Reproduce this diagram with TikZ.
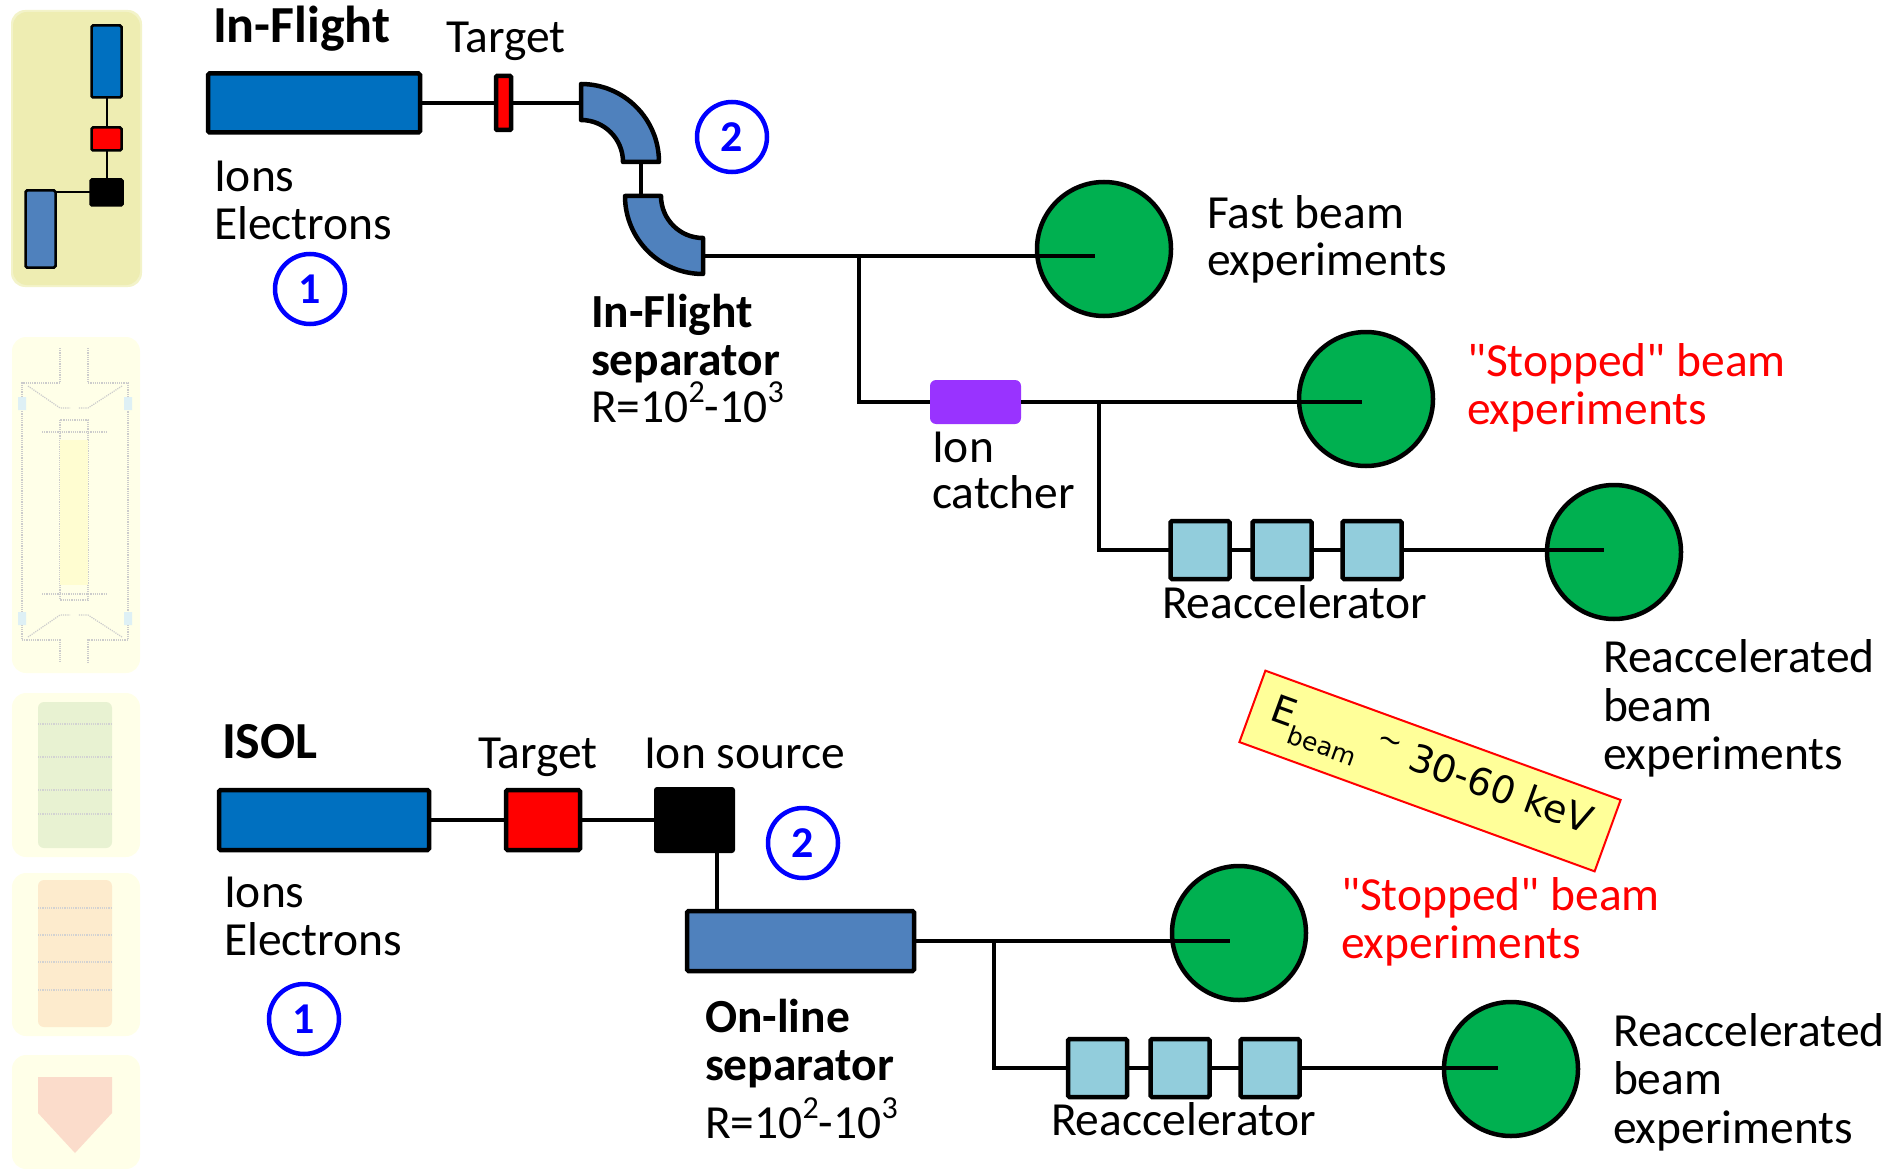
\documentclass[tikz,border=0pt]{standalone}
\usepackage{fontspec}
\setmainfont{Carlito}
\newfontfamily\notefont{DejaVu Sans}
\usetikzlibrary{calc}

\definecolor{beamblue}{HTML}{0070C0}
\definecolor{sepblue}{HTML}{4F81BD}
\definecolor{accblue}{HTML}{92CDDC}
\definecolor{expgreen}{HTML}{00B050}
\definecolor{catcherpurple}{HTML}{9933FF}
\definecolor{numblue}{HTML}{0000FF}
\definecolor{notefill}{HTML}{FFFF99}
\definecolor{khaki}{HTML}{EEEDB2}
\definecolor{paleyellow}{HTML}{FFFFE8}
\definecolor{palegreen}{HTML}{E8F2D2}
\definecolor{paleorange}{HTML}{FDEBCD}
\definecolor{palered}{HTML}{FBDCCB}

\newcommand\lblfont{\fontsize{47.5}{48}\selectfont}
\newcommand\titlefont{\fontsize{52}{56}\selectfont\bfseries}
\newcommand\numfont{\fontsize{44}{44}\selectfont\bfseries}
\newcommand\supnum[1]{\raisebox{0.42em}{\fontsize{32}{32}\selectfont #1}}

\begin{document}
\begin{tikzpicture}[x=1pt,y=-1pt,
  every node/.style={inner sep=0pt,outer sep=0pt},
  comp/.style={draw=black,line width=4.5pt,rounded corners=1.5pt},
  beam/.style={line width=3.5pt},
  thin beam/.style={line width=2pt},
  lbl/.style={anchor=base west,font=\lblfont},
  ttl/.style={anchor=base west,font=\titlefont},
  sep lbl/.style={anchor=base west,font=\lblfont\bfseries},
  stopped/.style={anchor=base west,font=\lblfont,text=red},
  expt/.style={circle,fill=expgreen,draw=black,line width=4.5pt,minimum size=134pt},
  numcirc/.style={circle,draw=numblue,line width=4.5pt,minimum size=70pt,
                  text=numblue,font=\numfont},
  acc/.style={comp,fill=accblue,minimum width=59pt,minimum height=58pt},
  panel/.style={rounded corners=14pt}
]
\useasboundingbox (0,0) rectangle (1890,1169);

% ---------- side strip of small icons ----------
\fill[khaki!70,panel] (11,10) rectangle (142,287);
\fill[khaki,panel] (13,12) rectangle (140,285);
\node[comp,fill=beamblue,minimum width=30pt,minimum height=72pt,line width=2.5pt] (iB) at (106.5,61.5) {};
\node[comp,fill=red,minimum width=30pt,minimum height=23pt,line width=2.5pt] (iT) at (106.5,139) {};
\node[comp,fill=black,minimum width=32pt,minimum height=26pt,line width=2.5pt] (iS) at (106.5,192.5) {};
\node[comp,fill=sepblue,minimum width=30pt,minimum height=77pt,line width=2.5pt] (iP) at (40.5,229) {};
\draw[thin beam] (iB.south) -- (iT.north);
\draw[thin beam] (iT.south) -- (iS.north);
\draw[thin beam] (iS.west) -- (iS.west -| iP.east);

% faint trap sketch
\fill[paleyellow,panel] (12,337) rectangle (140,673);
\begin{scope}[gray!40,line width=1.2pt,densely dotted]
  \draw (60,348) -- (60,383) -- (22,383) -- (22,640) -- (60,640) -- (60,662);
  \draw (88,348) -- (88,383) -- (128,383) -- (128,640) -- (88,640) -- (88,662);
  \draw (28,386) -- (60,408) -- (70,408);
  \draw (122,386) -- (88,408) -- (78,408);
  \draw (28,637) -- (60,615) -- (70,615);
  \draw (122,637) -- (88,615) -- (78,615);
  \draw (42,432) -- (108,432);
  \draw (42,594) -- (108,594);
  \draw (60,420) rectangle (88,600);
\end{scope}
\fill[yellow!18] (60,440) rectangle (88,585);
\fill[accblue!30] (18,397) rectangle (26,410) (124,397) rectangle (132,410)
                  (18,612) rectangle (26,625) (124,612) rectangle (132,625);

% faint cylinders and cone
\fill[paleyellow,panel] (12,693) rectangle (140,857);
\fill[palegreen,rounded corners=6pt] (38,702) rectangle (112,848);
\foreach \yy in {724,757,790,814}
  \draw[gray!35,line width=1.2pt,densely dotted] (38,\yy) -- (112,\yy);
\fill[paleyellow,panel] (12,873) rectangle (140,1036);
\fill[paleorange,rounded corners=6pt] (38,880) rectangle (112,1027);
\foreach \yy in {908,935,962,990}
  \draw[gray!35,line width=1.2pt,densely dotted] (38,\yy) -- (112,\yy);
\fill[paleyellow,panel] (12,1055) rectangle (140,1169);
\fill[palered] (38,1077) -- (112,1077) -- (112,1113) -- (75,1153) -- (38,1113) -- cycle;

% ---------- In-Flight line ----------
\node[ttl] (ifTitle) at (213,43) {In-Flight};
\node[lbl] (ifTgtLbl) at (446,53) {Target};
\node[comp,fill=beamblue,minimum width=212pt,minimum height=59pt] (beamA) at (314,103) {};
\node[comp,fill=red,minimum width=15pt,minimum height=54pt,rounded corners=1pt] (tgtA) at (503.5,103) {};
\node[lbl] (ionsA) at (214,192) {Ions};
\node[lbl] (elecA) at (214,240) {Electrons};
\node[numcirc] (oneA) at (310,289) {1};
\node[numcirc] (twoA) at (732,137) {2};

% dipole magnets of the separator
\filldraw[fill=sepblue,draw=black,line width=4.5pt,line join=round]
  (581,84) arc[start angle=-90,end angle=0,radius=78] -- (623,162)
  arc[start angle=0,end angle=-90,radius=42] -- cycle;
\filldraw[fill=sepblue,draw=black,line width=4.5pt,line join=round]
  (625,196) arc[start angle=180,end angle=90,radius=78] -- (703,238)
  arc[start angle=90,end angle=180,radius=42] -- cycle;
\coordinate (m1in) at (581,103);
\coordinate (m1out) at (641,162);
\coordinate (m2in) at (641,196);
\coordinate (m2out) at (703,256);

\node[sep lbl] (ifSep1) at (591,327) {In-Flight};
\node[sep lbl] (ifSep2) at (591,375) {separator};
\node[lbl] (ifSepR) at (591,422) {R=10\supnum{2}-10\supnum{3}};

\node[expt] (fastA) at (1104,249) {};
\node[lbl] (fast1) at (1207,229) {Fast beam};
\node[lbl] (fast2) at (1207,275) {experiments};

\node[fill=catcherpurple,rounded corners=6pt,minimum width=91pt,minimum height=44pt] (catchA) at (975.5,402) {};
\node[lbl] (catch1) at (932,462) {Ion};
\node[lbl] (catch2) at (932,508) {catcher};

\node[expt] (stopA) at (1366,399) {};
\node[stopped] (stopA1) at (1467,376) {\textquotedbl Stopped\textquotedbl{} beam};
\node[stopped] (stopA2) at (1467,424) {experiments};

\node[acc] (accA1) at (1200,550) {};
\node[acc] (accA2) at (1282,550) {};
\node[acc] (accA3) at (1372,550) {};
\node[lbl] (accAL) at (1162,618) {Reaccelerator};

\node[expt] (reaccA) at (1614,552) {};
\node[lbl] (reA1) at (1603,672) {Reaccelerated};
\node[lbl] (reA2) at (1603,721) {beam};
\node[lbl] (reA3) at (1603,769) {experiments};

\coordinate (jA) at (859,256);
\coordinate (jB) at (1099,402);
\coordinate (fastEnd) at (1095,256);
\coordinate (stopEndA) at (1362,402);
\coordinate (reaccEndA) at (1604,550);

\draw[beam] (beamA.east) -- (tgtA.west);
\draw[beam] (tgtA.east) -- (m1in);
\draw[beam] (m1out) -- (m2in);
\draw[beam] (m2out) -- (fastEnd);
\draw[beam] (jA) |- (catchA.west);
\draw[beam] (catchA.east) -- (stopEndA);
\draw[beam] (jB) |- (accA1.west);
\draw[beam] (accA1.east) -- (accA2.west);
\draw[beam] (accA2.east) -- (accA3.west);
\draw[beam] (accA3.east) -- (reaccEndA);

% ---------- ISOL line ----------
\node[ttl] (isolTitle) at (222,758) {ISOL};
\node[lbl] (isTgtLbl) at (478,768) {Target};
\node[lbl] (isSrcLbl) at (644,768) {Ion source};
\node[comp,fill=beamblue,minimum width=210pt,minimum height=60pt] (beamB) at (324,820) {};
\node[comp,fill=red,minimum width=74pt,minimum height=60pt] (tgtB) at (543,820) {};
\node[fill=black,rounded corners=3pt,minimum width=81pt,minimum height=66pt] (srcB) at (694.5,820) {};
\node[lbl] (ionsB) at (224,907) {Ions};
\node[lbl] (elecB) at (224,955) {Electrons};
\node[numcirc] (oneB) at (304,1019) {1};
\node[numcirc] (twoB) at (803,843) {2};

\node[comp,fill=sepblue,minimum width=227pt,minimum height=60pt] (sepB) at (800.5,941) {};
\node[sep lbl] (olSep1) at (705,1032) {On-line};
\node[sep lbl] (olSep2) at (705,1080) {separator};
\node[lbl] (olSepR) at (705,1138) {R=10\supnum{2}-10\supnum{3}};

\node[expt] (stopB) at (1239,933) {};
\node[stopped] (stopB1) at (1341,910) {\textquotedbl Stopped\textquotedbl{} beam};
\node[stopped] (stopB2) at (1341,958) {experiments};

\node[acc] (accB1) at (1097.5,1068) {};
\node[acc] (accB2) at (1180,1068) {};
\node[acc] (accB3) at (1270,1068) {};
\node[lbl] (accBL) at (1051,1135) {Reaccelerator};

\node[expt] (reaccB) at (1511,1069) {};
\node[lbl] (reB1) at (1613,1046) {Reaccelerated};
\node[lbl] (reB2) at (1613,1094) {beam};
\node[lbl] (reB3) at (1613,1143) {experiments};

\coordinate (jC) at (994,941);
\coordinate (stopEndB) at (1230,941);
\coordinate (reaccEndB) at (1498,1068);

\draw[beam] (beamB.east) -- (tgtB.west);
\draw[beam] (tgtB.east) -- (srcB.west);
\draw[beam] ([xshift=22.5pt]srcB.south) -- ([xshift=22.5pt]srcB.south |- sepB.north);
\draw[beam] (sepB.east) -- (stopEndB);
\draw[beam] (jC) |- (accB1.west);
\draw[beam] (accB1.east) -- (accB2.west);
\draw[beam] (accB2.east) -- (accB3.west);
\draw[beam] (accB3.east) -- (reaccEndB);

% ---------- beam energy note ----------
\node[fill=notefill,draw=red,line width=2pt,minimum width=378pt,minimum height=76pt,
      rotate=-20,font=\notefont\fontsize{38}{38}\selectfont] (ebeam) at (1430,771)
  {E\raisebox{-0.42em}{\fontsize{25}{25}\selectfont beam}\hspace{14pt}%
   \raisebox{0.3em}{\fontsize{30}{30}\selectfont\textasciitilde}\hspace{12pt}30-60 keV};

\end{tikzpicture}
\end{document}
